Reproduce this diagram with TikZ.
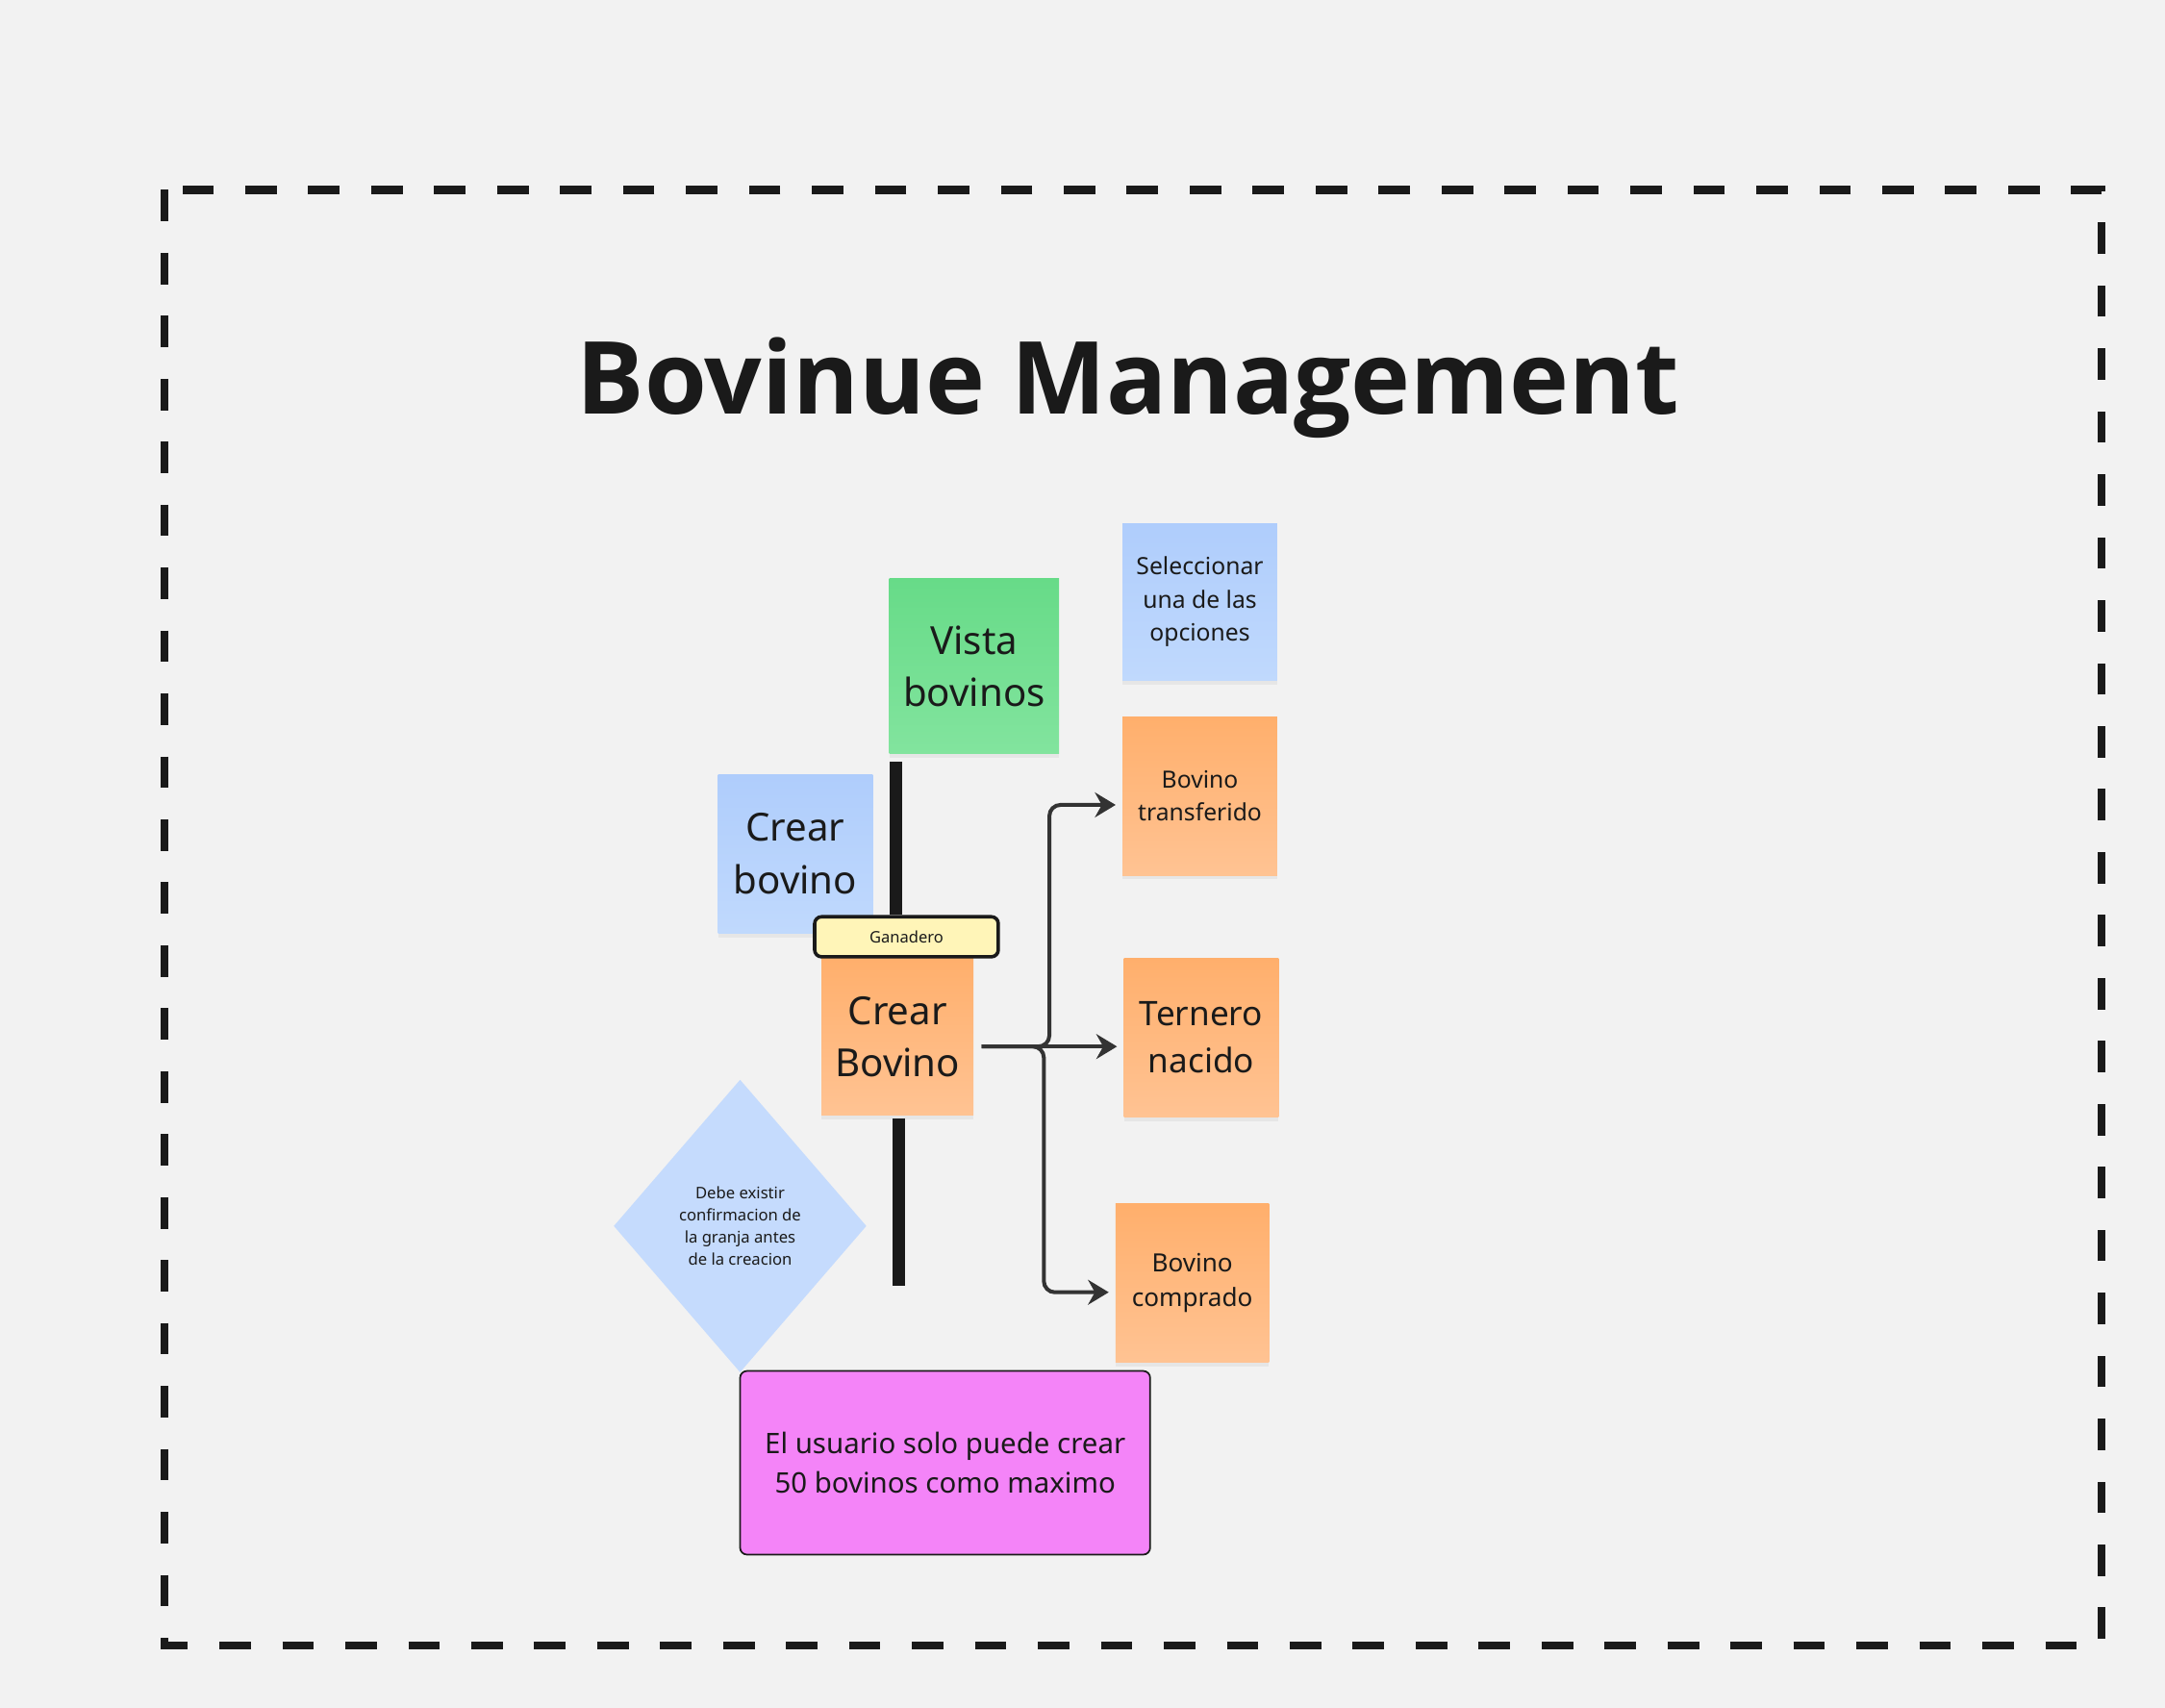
\documentclass[tikz,border=0pt]{standalone}
\usepackage{fontspec}
\setmainfont{Noto Sans}
\newfontfamily\titlefont{Open Sans}
\usetikzlibrary{arrows.meta,shadows,shapes.geometric}
\definecolor{bg}{HTML}{F2F2F2}
\definecolor{ink}{HTML}{1A1A1A}
\definecolor{conn}{HTML}{333333}
\definecolor{greenT}{HTML}{67DB88}
\definecolor{greenB}{HTML}{82E49E}
\definecolor{blueT}{HTML}{AFCDFC}
\definecolor{blueB}{HTML}{C0D9FD}
\definecolor{orangeT}{HTML}{FFAF6C}
\definecolor{orangeB}{HTML}{FFC393}
\definecolor{diam}{HTML}{C5DBFD}
\definecolor{pink}{HTML}{F484F8}
\definecolor{yellowN}{HTML}{FFF5B8}
\begin{document}
\begin{tikzpicture}[x=1pt,y=-1pt,
  every node/.style={text=ink, align=center},
  sticky/.style={rectangle, inner sep=0pt, minimum width=112pt, minimum height=115pt,
    drop shadow={shadow xshift=0pt, shadow yshift=-3pt, opacity=0.10}},
  greennote/.style={sticky, top color=greenT, bottom color=greenB},
  bluenote/.style={sticky, top color=blueT, bottom color=blueB},
  orangenote/.style={sticky, top color=orangeT, bottom color=orangeB},
  bigtxt/.style={font=\fontsize{28}{38}\selectfont},
  midtxt/.style={font=\fontsize{17.2}{24}\selectfont},
  pole/.style={line width=9pt, draw=ink},
  arr/.style={draw=conn, line width=2.8pt, rounded corners=8pt,
    -{Stealth[length=15pt, width=18pt, inset=5pt]}}
]
\fill[bg] (0,0) rectangle (1568,1237);
\useasboundingbox (0,0) rectangle (1568,1237);

% dashed frame
\draw[draw=ink, line width=5.8pt, dash pattern=on 22.8pt off 22.8pt]
  (119,137.5) rectangle (1522,1192);

% title
\node[anchor=base, font=\titlefont\bfseries\fontsize{73}{80}\selectfont] (title) at (817,300) {Bovinue Management};

% sticky notes
\node[greennote, minimum width=123pt, minimum height=127pt, bigtxt] (vista) at (705.5,482.5) {Vista\\bovinos};
\node[bluenote, minimum height=114pt, midtxt] (sel) at (869,436) {Seleccionar\\una de las\\opciones};
\node[bluenote, bigtxt] (crear) at (576,618.5) {Crear\\bovino};
\node[orangenote, minimum width=110pt, minimum height=114pt, bigtxt] (cb) at (650,751) {Crear\\Bovino};
\node[orangenote, midtxt] (tr) at (869,576.5) {Bovino\\transferido};
\node[orangenote, font=\fontsize{24.5}{34}\selectfont] (tn) at (870,751.5) {Ternero\\nacido};
\node[orangenote, minimum width=111pt, font=\fontsize{18.2}{25}\selectfont] (bc) at (863.5,929.5) {Bovino\\comprado};

% actor label
\node[rectangle, rounded corners=5pt, fill=yellowN, draw=ink, line width=2.5pt,
  minimum width=133pt, minimum height=29pt, inner sep=0pt,
  font=\fontsize{11.5}{14}\selectfont] (gan) at (656.5,678.5) {Ganadero};

% diamond
\node[diamond, fill=diam, inner sep=0pt, minimum width=183pt, minimum height=212pt,
  font=\fontsize{11.6}{16}\selectfont] (rule) at (536,888)
  {Debe existir\\confirmacion de\\la granja antes\\de la creacion};

% pink rule box
\node[rectangle, rounded corners=5pt, fill=pink, draw=ink, line width=1.2pt,
  minimum width=297pt, minimum height=133pt, inner sep=0pt,
  font=\fontsize{20.5}{29}\selectfont] (lim) at (684.5,1059.5)
  {El usuario solo puede crear\\50 bovinos como maximo};

% poles
\coordinate (p1) at (649,552);
\coordinate (p2a) at (651,810);
\coordinate (p2b) at (651,931);
\draw[pole] (p1) -- (gan.north -| p1);
\draw[pole] (p2a) -- (p2b);

% connectors
\coordinate (src) at (711,758);
\coordinate (trIn) at (808,583);
\coordinate (tnIn) at (809,758);
\coordinate (bcIn) at (803,936);
\draw[arr] (src) -- (760,758) |- (trIn);
\draw[arr] (src) -- (tnIn);
\draw[arr] (src) -- (756,758) |- (bcIn);
\end{tikzpicture}
\end{document}
